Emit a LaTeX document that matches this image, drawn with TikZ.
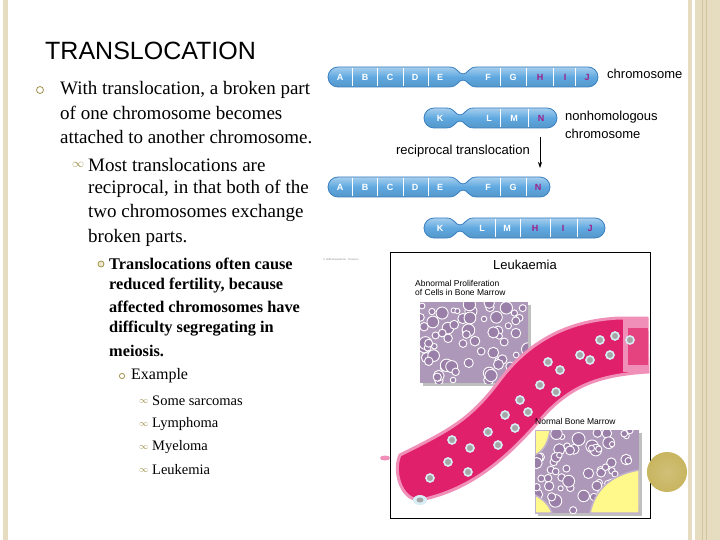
\documentclass[tikz,border=0pt]{standalone}
\usepackage{fontspec}
\setmainfont{Liberation Serif}
\newfontfamily\sansf{Liberation Sans}
\usetikzlibrary{arrows.meta}
\definecolor{beige}{HTML}{E6DCC0}
\definecolor{beigeline}{HTML}{D2C49C}
\definecolor{chromo}{HTML}{5FA8E0}
\definecolor{chromoedge}{HTML}{3A7FC0}
\definecolor{purp}{HTML}{A0208A}
\definecolor{olive}{HTML}{C8B560}
\definecolor{vessel}{HTML}{E0206A}
\definecolor{vesseledge}{HTML}{F090B8}
\definecolor{marrow}{HTML}{9A7FA8}
\definecolor{cellblue}{HTML}{D8EEF6}
\tikzset{
  txt/.style={anchor=west,inner sep=0pt},
  lvla/.style={txt,font=\fontsize{19}{20}\selectfont},
  lvlc/.style={txt,font=\fontsize{16.3}{18}\selectfont\bfseries},
  lvle/.style={txt,font=\fontsize{14.5}{16}\selectfont},
  lab/.style={inner sep=0pt,font=\sansf\fontsize{13}{15}\selectfont},
  band/.style={inner sep=0pt,font=\sansf\bfseries\fontsize{9}{9}\selectfont,text=white},
  bandp/.style={band,text=purp},
  chromfill/.style={draw=chromoedge,line width=0.8pt,top color=chromo!55!white,bottom color=chromo!90!black,middle color=chromo},
  divider/.style={white,line width=0.8pt},
  bul/.style={draw=olive!80!black,line width=0.8pt}
}
% \chromo{x1}{xp}{x2}{yc}
\newcommand{\chromo}[4]{%
  \path[chromfill] (#1+10,#4-10) -- (#2-14,#4-10) .. controls (#2-5,#4-10) and (#2-5,#4-3) .. (#2,#4-3)
   .. controls (#2+5,#4-3) and (#2+5,#4-10) .. (#2+14,#4-10) -- (#3-10,#4-10)
   .. controls (#3-4.5,#4-10) and (#3,#4-5.5) .. (#3,#4) .. controls (#3,#4+5.5) and (#3-4.5,#4+10) .. (#3-10,#4+10)
   -- (#2+14,#4+10) .. controls (#2+5,#4+10) and (#2+5,#4+3) .. (#2,#4+3)
   .. controls (#2-5,#4+3) and (#2-5,#4+10) .. (#2-14,#4+10) -- (#1+10,#4+10)
   .. controls (#1+4.5,#4+10) and (#1,#4+5.5) .. (#1,#4) .. controls (#1,#4-5.5) and (#1+4.5,#4-10) .. (#1+10,#4-10) -- cycle;}
\begin{document}
\begin{tikzpicture}[x=1pt,y=-1pt]
\useasboundingbox (0,0) rectangle (720,540);
\fill[white] (0,0) rectangle (720,540);
% side bars
\fill[beige] (3,0) rectangle (8,540);
\fill[beige] (688,0) rectangle (692,540);
\fill[beige] (695,0) rectangle (720,540);
\draw[beigeline] (702,0) -- (702,540) (706,0) -- (706,540);
% title
\node[txt,font=\sansf\fontsize{25}{28}\selectfont] (title) at (45,51) {TRANSLOCATION};
% bullets
\draw[bul] (40,90) circle (3.5);
\node[txt,font=\fontsize{13}{13}\selectfont,text=olive!80!black] (b2) at (72,165) {$\infty$};
\draw[bul,fill=olive!30] (101,264) circle (3);
\draw[bul] (122,376) circle (2.6);
\foreach \y in {401,424,447,470}{\node[txt,font=\fontsize{9}{9}\selectfont,text=olive!80!black] at (139,\y+1) {$\infty$};}
% text
\node[lvla] (t1) at (60,90) {With translocation, a broken part};
\node[lvla] (t2) at (60,113) {of one chromosome becomes};
\node[lvla] (t3) at (60,137) {attached to another chromosome.};
\node[lvla] (t4) at (88,165) {Most translocations are};
\node[lvla] (t5) at (88,189) {reciprocal, in that both of the};
\node[lvla] (t6) at (88,213) {two chromosomes exchange};
\node[lvla] (t7) at (88,238) {broken parts.};
\node[lvlc] (c1) at (109,264) {Translocations often cause};
\node[lvlc] (c2) at (109,286) {reduced fertility, because};
\node[lvlc] (c3) at (109,307) {affected chromosomes have};
\node[lvlc] (c4) at (109,329) {difficulty segregating in};
\node[lvlc] (c5) at (109,351) {meiosis.};
\node[txt,font=\fontsize{16}{18}\selectfont] (ex) at (131,376) {Example};
\node[lvle] (e1) at (152,401) {Some sarcomas};
\node[lvle] (e2) at (152,424) {Lymphoma};
\node[lvle] (e3) at (152,447) {Myeloma};
\node[lvle] (e4) at (152,470) {Leukemia};
% chromosomes
\chromo{328}{463}{598}{77}
\foreach \x in {352,377,403,428,500,526,553,575}{\draw[divider] (\x,68) -- (\x,86);}
\foreach \x/\l in {340/A,365/B,390/C,415/D,440/E,488/F,513/G}{\node[band] at (\x,77) {\l};}
\foreach \x/\l in {540/H,565/I,587/J}{\node[bandp] at (\x,77) {\l};}
\chromo{424}{460}{557}{118}
\foreach \x in {500,528}{\draw[divider] (\x,109) -- (\x,127);}
\node[band] at (440,118) {K}; \node[band] at (489,118) {L}; \node[band] at (514,118) {M}; \node[bandp] at (541,118) {N};
\chromo{328}{463}{550}{187}
\foreach \x in {352,377,403,428,500,526}{\draw[divider] (\x,178) -- (\x,196);}
\foreach \x/\l in {340/A,365/B,390/C,415/D,440/E,488/F,513/G}{\node[band] at (\x,187) {\l};}
\node[bandp] at (538,187) {N};
\chromo{424}{460}{605}{228}
\foreach \x in {495,520,550,577}{\draw[divider] (\x,219) -- (\x,237);}
\node[band] at (440,228) {K}; \node[band] at (482,228) {L}; \node[band] at (507,228) {M};
\node[bandp] at (535,228) {H}; \node[bandp] at (563,228) {I}; \node[bandp] at (590,228) {J};
% labels
\node[lab,anchor=west] (lc) at (607,74) {chromosome};
\node[lab,anchor=west,align=left,font=\sansf\fontsize{13}{18}\selectfont] (ln) at (565,125) {nonhomologous\\chromosome};
\node[lab,anchor=east] (lr) at (530,151) {reciprocal translocation};
\coordinate (a1) at (540,137); \coordinate (a2) at (540,168);
\draw[-{Stealth[length=6pt,width=4pt]},line width=0.7pt] (a1) -- (a2);
\node[inner sep=0pt,font=\sansf\fontsize{2.5}{3}\selectfont,text=gray] (cp) at (341,260) {\textcopyright\ 2006 Brooks/Cole - Thomson};
% leukaemia picture
\draw[black,line width=0.8pt] (390,252) rectangle (650,518);
\node[inner sep=0pt,font=\sansf\fontsize{13}{15}\selectfont] (lk) at (525,265) {Leukaemia};
\node[anchor=west,align=left,inner sep=0pt,font=\sansf\fontsize{8.5}{9.5}\selectfont] (ab) at (415,288) {Abnormal Proliferation\\of Cells in Bone Marrow};
\fill[gray!50] (423,305) rectangle (531,386);
\begin{scope}
\clip (420,302) rectangle (528,383);
\fill[marrow!80!white] (420,302) rectangle (528,383);
\pgfmathsetseed{7}
\foreach \i in {1,...,70}{\pgfmathsetmacro\cx{420+rnd*108}\pgfmathsetmacro\cy{302+rnd*81}\pgfmathsetmacro\rr{2.5+rnd*4}
 \draw[white,line width=0.9pt,fill=marrow] (\cx,\cy) circle (\rr);}
\end{scope}
% vessel
\path[fill=vessel,draw=vesseledge,line width=3pt] (400,455) .. controls (450,430) and (470,420) .. (500,380)
  .. controls (530,340) and (570,320) .. (620,318) -- (647,318) -- (648,372)
  .. controls (600,375) and (570,385) .. (540,420) .. controls (505,460) and (470,490) .. (420,500)
  .. controls (400,500) and (393,470) .. (400,455) -- cycle;
\fill[vesseledge] (623,317) rectangle (648,372);
\fill[vessel!85!white] (628,328) rectangle (648,365);
\foreach \cx/\cy in {430/478,448/462,470/448,488/432,505/415,520/400,540/385,560/370,580/355,600/340,615/336,468/472,498/445,528/412,556/392,590/360,452/440,515/428,548/362,610/355,630/340}{
  \draw[cellblue,line width=1.6pt,fill=gray!70] (\cx,\cy) circle (4);}
\fill[cellblue] (420,500) ellipse (7 and 5); \fill[gray!70] (420,500) ellipse (3.5 and 2.5);
\fill[vesseledge] (385,458) ellipse (5 and 2.5);
% normal marrow
\node[anchor=west,inner sep=0pt,font=\sansf\fontsize{8.5}{9.5}\selectfont] (nb) at (535,421) {Normal Bone Marrow};
\fill[gray!50] (538,433) rectangle (642,516);
\begin{scope}
\clip (535,430) rectangle (639,513);
\fill[marrow!80!white] (535,430) rectangle (639,513);
\pgfmathsetseed{11}
\foreach \i in {1,...,65}{\pgfmathsetmacro\cx{535+rnd*104}\pgfmathsetmacro\cy{430+rnd*83}\pgfmathsetmacro\rr{2.5+rnd*4}
 \draw[white,line width=0.9pt,fill=marrow] (\cx,\cy) circle (\rr);}
\fill[yellow!45,draw=marrow!60,line width=1.5pt] (535,430) -- (550,430) .. controls (548,445) and (542,452) .. (535,455) -- cycle;
\fill[yellow!45,draw=marrow!60,line width=1.5pt] (639,470) .. controls (610,475) and (595,490) .. (590,513) -- (639,513) -- cycle;
\fill[yellow!45,draw=marrow!60,line width=1.5pt] (535,495) .. controls (545,500) and (550,507) .. (552,513) -- (535,513) -- cycle;
\end{scope}
% olive circle
\shade[inner color=olive!85!white,outer color=olive] (667,472) circle (20);
\end{tikzpicture}
\end{document}
